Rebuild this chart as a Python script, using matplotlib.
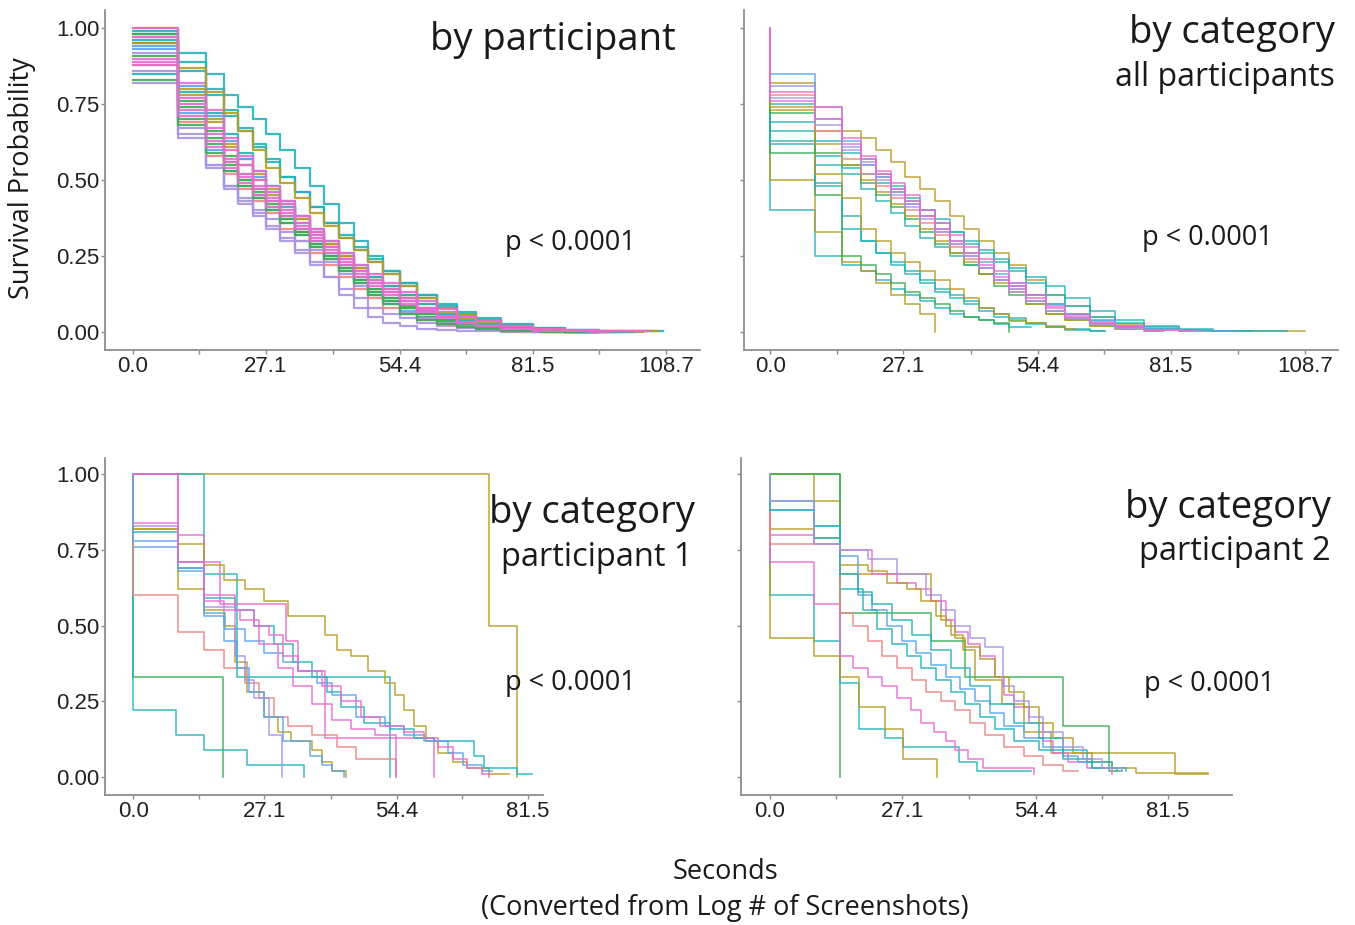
import matplotlib.pyplot as plt

# === Colours (ggplot hue-ish, washed out like the scan)
TEAL = "#22b3b9"
PINK = "#e86bd2"
GOLD = "#b89c22"
GREEN = "#3aae52"
LAV = "#a893e4"
BLUE = "#5aa4ea"
SALMON = "#ec8585"

# === Panel 1: by participant (all curves share one step grid)
part_times = [0, 9.2, 14.8, 18.5, 21.5, 24.5, 27.1, 30, 33, 36, 39, 42, 45, 48,
              51, 54.4, 58, 62, 66, 70, 75, 81.5, 88, 95]
part_surv = [
    [0.98, 0.92, 0.85, 0.78, 0.74, 0.70, 0.65, 0.60, 0.54, 0.48, 0.42, 0.36, 0.30, 0.25, 0.20, 0.16, 0.12, 0.09, 0.065, 0.045, 0.025, 0.012, 0.005, 0.002],
    [0.82, 0.65, 0.55, 0.48, 0.43, 0.39, 0.35, 0.31, 0.27, 0.23, 0.18, 0.12, 0.08, 0.05, 0.03, 0.02, 0.01, 0.005, 0.002, 0.001, 0, 0, 0, 0],
    [1.00, 0.80, 0.70, 0.62, 0.57, 0.52, 0.47, 0.42, 0.37, 0.33, 0.29, 0.25, 0.21, 0.17, 0.14, 0.11, 0.08, 0.05, 0.035, 0.02, 0.012, 0.006, 0.002, 0],
    [0.98, 0.76, 0.66, 0.58, 0.52, 0.47, 0.43, 0.38, 0.34, 0.30, 0.26, 0.22, 0.18, 0.14, 0.11, 0.08, 0.06, 0.04, 0.025, 0.015, 0.008, 0.004, 0.001, 0],
    [0.96, 0.86, 0.78, 0.71, 0.66, 0.61, 0.56, 0.51, 0.46, 0.41, 0.36, 0.31, 0.27, 0.23, 0.19, 0.15, 0.11, 0.08, 0.055, 0.035, 0.02, 0.01, 0.004, 0],
    [0.94, 0.72, 0.60, 0.53, 0.48, 0.44, 0.40, 0.36, 0.32, 0.28, 0.24, 0.20, 0.16, 0.13, 0.10, 0.07, 0.05, 0.03, 0.02, 0.01, 0.005, 0.002, 0, 0],
    [0.91, 0.70, 0.62, 0.55, 0.50, 0.46, 0.42, 0.37, 0.33, 0.29, 0.25, 0.21, 0.17, 0.13, 0.10, 0.08, 0.05, 0.035, 0.02, 0.012, 0.006, 0.003, 0.001, 0],
    [0.88, 0.78, 0.69, 0.61, 0.55, 0.50, 0.45, 0.41, 0.37, 0.33, 0.29, 0.25, 0.21, 0.18, 0.15, 0.12, 0.09, 0.065, 0.045, 0.03, 0.018, 0.01, 0.004, 0],
    [0.86, 0.67, 0.55, 0.47, 0.42, 0.38, 0.34, 0.30, 0.26, 0.22, 0.18, 0.14, 0.11, 0.08, 0.06, 0.045, 0.03, 0.02, 0.012, 0.006, 0.003, 0.001, 0, 0],
    [0.99, 0.89, 0.80, 0.73, 0.67, 0.62, 0.57, 0.51, 0.46, 0.41, 0.36, 0.32, 0.28, 0.24, 0.20, 0.16, 0.12, 0.085, 0.06, 0.04, 0.022, 0.011, 0.005, 0.002],
    [0.93, 0.81, 0.71, 0.63, 0.57, 0.51, 0.46, 0.41, 0.36, 0.32, 0.28, 0.24, 0.20, 0.16, 0.13, 0.10, 0.07, 0.05, 0.03, 0.02, 0.01, 0.005, 0.002, 0],
    [0.95, 0.74, 0.64, 0.56, 0.50, 0.45, 0.41, 0.37, 0.33, 0.29, 0.25, 0.21, 0.17, 0.14, 0.11, 0.085, 0.06, 0.04, 0.025, 0.015, 0.008, 0.003, 0.001, 0],
    [0.90, 0.75, 0.65, 0.57, 0.52, 0.48, 0.44, 0.40, 0.36, 0.32, 0.28, 0.24, 0.20, 0.17, 0.14, 0.11, 0.08, 0.055, 0.035, 0.02, 0.012, 0.006, 0.002, 0],
    [0.97, 0.69, 0.58, 0.52, 0.47, 0.43, 0.39, 0.34, 0.30, 0.26, 0.22, 0.18, 0.14, 0.11, 0.08, 0.06, 0.04, 0.025, 0.015, 0.008, 0.004, 0.001, 0, 0],
    [0.85, 0.79, 0.72, 0.65, 0.59, 0.53, 0.48, 0.43, 0.38, 0.34, 0.30, 0.26, 0.22, 0.18, 0.15, 0.12, 0.09, 0.06, 0.04, 0.025, 0.015, 0.008, 0.003, 0],
    [1.00, 0.82, 0.73, 0.64, 0.58, 0.53, 0.48, 0.43, 0.38, 0.33, 0.28, 0.24, 0.20, 0.16, 0.13, 0.10, 0.075, 0.05, 0.03, 0.02, 0.01, 0.005, 0.002, 0],
    [0.92, 0.64, 0.54, 0.48, 0.44, 0.40, 0.37, 0.33, 0.30, 0.27, 0.23, 0.19, 0.15, 0.12, 0.09, 0.065, 0.045, 0.03, 0.018, 0.01, 0.005, 0.002, 0, 0],
    [0.88, 0.73, 0.63, 0.56, 0.51, 0.47, 0.43, 0.39, 0.35, 0.31, 0.27, 0.23, 0.19, 0.16, 0.13, 0.10, 0.07, 0.05, 0.03, 0.02, 0.01, 0.005, 0.002, 0],
    [0.95, 0.87, 0.79, 0.72, 0.66, 0.60, 0.54, 0.49, 0.44, 0.39, 0.35, 0.31, 0.27, 0.23, 0.19, 0.15, 0.11, 0.08, 0.055, 0.035, 0.02, 0.01, 0.004, 0.001],
    [0.83, 0.68, 0.59, 0.53, 0.48, 0.44, 0.40, 0.36, 0.32, 0.28, 0.24, 0.20, 0.16, 0.12, 0.09, 0.06, 0.04, 0.025, 0.015, 0.008, 0.003, 0.001, 0, 0],
    [0.97, 0.77, 0.67, 0.60, 0.55, 0.50, 0.46, 0.42, 0.38, 0.34, 0.30, 0.26, 0.22, 0.19, 0.16, 0.13, 0.10, 0.075, 0.05, 0.035, 0.02, 0.01, 0.005, 0.002],
    [0.89, 0.71, 0.61, 0.54, 0.49, 0.45, 0.41, 0.38, 0.34, 0.30, 0.26, 0.22, 0.18, 0.15, 0.12, 0.09, 0.065, 0.045, 0.03, 0.018, 0.01, 0.004, 0.001, 0],
]
part_end = [108, 80, 98, 92, 100, 85, 90, 104, 86, 106, 96, 90, 100, 84, 102, 94, 88, 97, 107, 83, 105, 93]
part_colors = [TEAL, LAV, GOLD, GREEN, TEAL, BLUE, GREEN, GOLD, LAV, TEAL, BLUE, GREEN,
               PINK, SALMON, TEAL, PINK, LAV, PINK, GOLD, GREEN, PINK, PINK]

# === Panel 2: by category, all participants (shared grid, S(0)=1)
cat_all_times = [0, 0, 9.1, 14.7, 18.5, 21.5, 24.5, 27.5, 30.5, 33.5, 36.5, 39.5,
                 42.5, 45.5, 48.5, 52, 56, 60, 65, 70, 76, 83, 90]
cat_all_surv = [
    [1.0, 0.82, 0.66, 0.66, 0.64, 0.60, 0.56, 0.51, 0.47, 0.43, 0.38, 0.34, 0.30, 0.26, 0.22, 0.17, 0.12, 0.085, 0.05, 0.025, 0.01, 0.004, 0.001],
    [1.0, 0.75, 0.58, 0.54, 0.52, 0.49, 0.46, 0.43, 0.40, 0.36, 0.33, 0.29, 0.26, 0.23, 0.20, 0.16, 0.12, 0.085, 0.05, 0.03, 0.015, 0.006, 0.002],
    [1.0, 0.69, 0.63, 0.59, 0.55, 0.51, 0.48, 0.44, 0.40, 0.37, 0.33, 0.30, 0.27, 0.24, 0.21, 0.18, 0.15, 0.11, 0.07, 0.04, 0.02, 0.008, 0.003],
    [1.0, 0.63, 0.55, 0.52, 0.47, 0.43, 0.39, 0.35, 0.31, 0.28, 0.25, 0.22, 0.19, 0.17, 0.15, 0.12, 0.09, 0.06, 0.04, 0.02, 0.01, 0.005],
    [1.0, 0.66, 0.49, 0.34, 0.30, 0.26, 0.23, 0.20, 0.17, 0.14, 0.12, 0.10, 0.08, 0.06, 0.045, 0.03, 0.015, 0.007, 0.002],
    [1.0, 0.40, 0.25, 0.22, 0.20, 0.17, 0.14, 0.12, 0.10, 0.08, 0.06, 0.05, 0.04, 0.025, 0.015],
    [1.0, 0.50, 0.33, 0.23, 0.20, 0.16, 0.12, 0.09, 0.06, 0.0],
    [1.0, 0.59, 0.45, 0.25, 0.22, 0.19, 0.16, 0.13, 0.11, 0.09, 0.07, 0.05, 0.04, 0.03, 0.0],
    [1.0, 0.62, 0.48, 0.38, 0.30, 0.26, 0.22, 0.19, 0.16, 0.13, 0.11, 0.09, 0.07, 0.05, 0.035, 0.025, 0.015, 0.008, 0.003],
    [1.0, 0.73, 0.52, 0.44, 0.34, 0.30, 0.26, 0.23, 0.20, 0.17, 0.14, 0.11, 0.08, 0.06, 0.04, 0.03, 0.02, 0.01],
    [1.0, 0.72, 0.59, 0.55, 0.49, 0.45, 0.41, 0.37, 0.33, 0.29, 0.26, 0.22, 0.19, 0.15, 0.12, 0.09, 0.06, 0.04, 0.02, 0.01, 0.004],
    [1.0, 0.74, 0.62, 0.55, 0.50, 0.46, 0.42, 0.38, 0.34, 0.30, 0.26, 0.23, 0.19, 0.16, 0.13, 0.09, 0.06, 0.04, 0.02, 0.01],
    [1.0, 0.78, 0.66, 0.57, 0.52, 0.48, 0.44, 0.40, 0.36, 0.32, 0.28, 0.24, 0.21, 0.17, 0.14, 0.10, 0.07, 0.045, 0.025, 0.012, 0.005],
    [1.0, 0.85, 0.70, 0.63, 0.57, 0.52, 0.47, 0.42, 0.38, 0.34, 0.30, 0.26, 0.23, 0.19, 0.16, 0.12, 0.09, 0.06, 0.035, 0.018, 0.008, 0.003, 0.001],
    [1.0, 0.81, 0.68, 0.61, 0.56, 0.51, 0.46, 0.42, 0.38, 0.33, 0.29, 0.25, 0.21, 0.17, 0.13, 0.10, 0.07, 0.045, 0.025, 0.012, 0.005, 0.002],
    [1.0, 0.77, 0.74, 0.60, 0.55, 0.50, 0.45, 0.41, 0.37, 0.33, 0.29, 0.25, 0.21, 0.17, 0.14, 0.10, 0.07, 0.045, 0.025, 0.012, 0.004],
    [1.0, 0.79, 0.74, 0.62, 0.57, 0.52, 0.47, 0.43, 0.38, 0.34, 0.30, 0.26, 0.22, 0.18, 0.15, 0.11, 0.08, 0.05, 0.03, 0.015, 0.006],
    [1.0, 0.76, 0.70, 0.64, 0.58, 0.53, 0.49, 0.45, 0.40, 0.36, 0.32, 0.28, 0.24, 0.20, 0.16, 0.12, 0.085, 0.055, 0.03, 0.015, 0.006, 0.002],
]
cat_all_end = [108.7, 105, 98, 87, 68, 53, 33.5, 48.5, 68, 62, 80, 74, 78, 95, 88, 79, 80, 86]
cat_all_colors = [GOLD, TEAL, TEAL, TEAL, TEAL, TEAL, GOLD, GREEN, TEAL, GOLD,
                  GREEN, GOLD, SALMON, BLUE, LAV, LAV, PINK, PINK]

# === Panel 3: by category, participant 1 (one time list per curve)
p1_times = [
    [0, 73.5, 79.3],
    [0, 0, 18.5],
    [0, 0, 8.9, 14.7, 23.6, 35.2],
    [0, 14.7, 21.4, 53.0],
    [0, 9.3, 14.7, 18.0, 31.6, 34.0, 39.6, 62.0],
    [0, 0, 9.3, 14.7, 18.7, 23.0, 27.0, 32.0, 39.6, 42.0, 45.0, 48.5, 52.0, 54.0, 56.0, 58.0, 60.5, 63.0, 66.0, 69.0, 73.5, 77.5],
    [0, 0, 9.3, 14.7, 21.0, 25.0, 29.0, 33.0, 37.0, 40.0, 43.0, 47.6, 53.0, 58.0, 62.0, 70.3, 72.5, 79.3, 82.4],
    [0, 0, 9.3, 14.7, 19.0, 23.0, 27.0, 31.0, 34.0, 38.0, 41.0, 46.0, 52.0, 56.0, 60.0, 65.0, 68.0, 72.0, 74.0],
    [0, 0, 9.3, 14.7, 21.0, 25.0, 28.0, 31.0, 34.0, 39.0, 43.0, 47.0, 51.0, 56.0, 60.0, 63.0, 66.0, 69.0, 72.0, 73.5],
    [0, 0, 9.3, 14.7, 18.7, 23.0, 26.0, 29.0, 32.0, 37.0, 42.0, 46.0, 54.3],
    [0, 0, 9.3, 14.7, 18.7, 21.0, 23.5, 27.0, 30.0, 32.5, 37.0, 39.0, 41.0, 44.0],
    [0, 0, 9.3, 14.7, 21.0, 23.0, 25.0, 28.0, 30.7],
    [0, 0, 9.3, 14.7, 18.7, 21.5, 24.0, 27.0, 31.0, 36.5, 39.0, 41.0, 43.6],
    [0, 9.3, 14.7, 18.7, 22.0, 26.0, 30.0, 33.0, 37.0, 41.0, 45.0, 50.0, 54.3],
]
p1_surv = [
    [1.0, 0.5, 0.0],
    [1.0, 0.33, 0.0],
    [1.0, 0.22, 0.14, 0.09, 0.04, 0.0],
    [1.0, 0.67, 0.33, 0.0],
    [1.0, 0.80, 0.71, 0.57, 0.45, 0.35, 0.13, 0.0],
    [1.0, 0.82, 0.77, 0.70, 0.65, 0.62, 0.58, 0.53, 0.47, 0.42, 0.40, 0.35, 0.31, 0.27, 0.22, 0.17, 0.12, 0.08, 0.05, 0.03, 0.01, 0.01],
    [1.0, 0.81, 0.69, 0.59, 0.55, 0.50, 0.44, 0.38, 0.33, 0.28, 0.23, 0.18, 0.16, 0.13, 0.12, 0.07, 0.03, 0.01, 0.01],
    [1.0, 0.76, 0.68, 0.54, 0.49, 0.45, 0.41, 0.38, 0.35, 0.31, 0.27, 0.20, 0.17, 0.14, 0.12, 0.08, 0.04, 0.02, 0.02],
    [1.0, 0.84, 0.71, 0.60, 0.55, 0.50, 0.47, 0.40, 0.35, 0.30, 0.25, 0.20, 0.17, 0.15, 0.13, 0.10, 0.06, 0.03, 0.01, 0.0],
    [1.0, 0.60, 0.48, 0.42, 0.36, 0.31, 0.26, 0.20, 0.17, 0.14, 0.10, 0.06, 0.0],
    [1.0, 0.82, 0.62, 0.55, 0.50, 0.38, 0.28, 0.20, 0.15, 0.12, 0.09, 0.05, 0.02, 0.0],
    [1.0, 0.83, 0.71, 0.56, 0.40, 0.32, 0.26, 0.14, 0.0],
    [1.0, 0.78, 0.69, 0.53, 0.45, 0.36, 0.28, 0.20, 0.12, 0.07, 0.04, 0.02, 0.0],
    [1.0, 0.71, 0.58, 0.55, 0.52, 0.44, 0.36, 0.30, 0.24, 0.19, 0.16, 0.14, 0.0],
]
p1_colors = [GOLD, GREEN, TEAL, TEAL, PINK, GOLD, TEAL, BLUE, PINK, SALMON, GOLD, LAV, BLUE, PINK]

# === Panel 4: by category, participant 2
p2_times = [
    [0, 14.4],
    [0, 9.1, 14.4, 32.9, 35.0, 37.0, 39.5, 42.0, 47.5, 52.0, 57.6, 83.0, 89.7],
    [0, 14.4, 32.9, 40.0, 60.0, 69.5, 72.0],
    [0, 0, 9.1, 14.4, 21.0, 26.0, 30.0, 33.0, 36.0, 38.0, 40.5, 43.0, 46.0, 48.0, 50.0, 53.0, 56.0, 58.0, 61.0, 65.0, 70.0],
    [0, 0, 9.1, 14.4, 20.0, 24.0, 28.0, 31.0, 34.0, 36.0, 38.0, 40.0, 43.0, 46.0, 49.0, 52.0, 55.0, 58.0, 62.0, 66.0, 70.0, 75.0, 89.7],
    [0, 0, 9.1, 14.4, 18.2, 23.5, 27.2, 38.7, 42.4, 53.5],
    [0, 0, 9.1, 14.4, 18.2, 23.5, 27.2, 34.2],
    [0, 0, 9.1, 14.4, 17.0, 20.0, 23.0, 26.0, 28.8, 31.0, 33.7, 36.0, 38.0, 40.5, 43.6, 54.0],
    [0, 0, 9.1, 14.4, 18.0, 21.0, 24.0, 27.0, 30.0, 33.0, 36.0, 39.0, 42.0, 45.0, 48.0, 52.0, 56.0, 60.0, 63.0, 66.0, 68.5],
    [0, 0, 9.1, 14.4, 19.0, 22.0, 25.0, 28.0, 31.0, 34.0, 37.0, 40.0, 43.0, 46.0, 50.0, 55.0, 60.0, 66.0, 71.0],
    [0, 0, 9.1, 14.4, 17.0, 20.0, 23.0, 26.0, 29.0, 32.0, 35.0, 38.0, 41.0, 44.0, 48.0, 52.0, 56.0, 60.0, 63.0],
    [0, 0, 9.1, 14.4, 18.0, 21.0, 25.0, 29.0, 33.0, 37.0, 41.0, 45.0, 50.0, 55.0, 60.0, 65.0, 70.0, 73.0],
    [0, 0, 9.1, 14.4, 20.0, 26.0, 32.0, 35.0, 38.0, 41.0, 44.0, 47.7, 50.0, 53.0, 56.0, 60.0, 64.0, 68.0, 72.0],
]
p2_surv = [
    [1.0, 0.0],
    [1.0, 0.91, 0.67, 0.58, 0.52, 0.47, 0.42, 0.32, 0.24, 0.15, 0.08, 0.01, 0.01],
    [1.0, 0.54, 0.45, 0.33, 0.17, 0.02, 0.02],
    [1.0, 0.80, 0.77, 0.75, 0.67, 0.64, 0.62, 0.58, 0.52, 0.48, 0.44, 0.40, 0.33, 0.27, 0.23, 0.18, 0.12, 0.08, 0.05, 0.03, 0.01],
    [1.0, 0.82, 0.79, 0.70, 0.68, 0.64, 0.62, 0.58, 0.53, 0.50, 0.46, 0.43, 0.39, 0.33, 0.28, 0.23, 0.18, 0.13, 0.08, 0.05, 0.03, 0.012, 0.012],
    [1.0, 0.60, 0.45, 0.31, 0.16, 0.13, 0.10, 0.05, 0.02, 0.02],
    [1.0, 0.46, 0.40, 0.33, 0.23, 0.16, 0.06, 0.0],
    [1.0, 0.71, 0.57, 0.40, 0.36, 0.33, 0.30, 0.26, 0.22, 0.18, 0.15, 0.12, 0.09, 0.06, 0.03, 0.01],
    [1.0, 0.88, 0.83, 0.73, 0.60, 0.55, 0.50, 0.45, 0.41, 0.37, 0.33, 0.29, 0.25, 0.21, 0.17, 0.13, 0.10, 0.07, 0.05, 0.03, 0.03],
    [1.0, 0.91, 0.79, 0.62, 0.55, 0.49, 0.44, 0.40, 0.36, 0.32, 0.28, 0.24, 0.20, 0.16, 0.12, 0.09, 0.06, 0.03, 0.02],
    [1.0, 0.77, 0.77, 0.54, 0.50, 0.45, 0.40, 0.36, 0.32, 0.28, 0.25, 0.22, 0.18, 0.14, 0.10, 0.07, 0.04, 0.02, 0.02],
    [1.0, 0.88, 0.83, 0.67, 0.61, 0.57, 0.52, 0.47, 0.42, 0.36, 0.30, 0.24, 0.18, 0.13, 0.09, 0.05, 0.03, 0.02],
    [1.0, 0.91, 0.77, 0.75, 0.72, 0.67, 0.60, 0.55, 0.50, 0.46, 0.43, 0.30, 0.25, 0.20, 0.15, 0.10, 0.06, 0.03, 0.02],
]
p2_colors = [GREEN, GOLD, GREEN, PINK, GOLD, TEAL, GOLD, PINK, BLUE, TEAL, SALMON, TEAL, LAV]

xtick_vals = [0.0, 27.1, 54.4, 81.5, 108.7]
xtick_minor = [13.55, 40.75, 67.95, 95.1]
ytick_vals = [0.00, 0.25, 0.50, 0.75, 1.00]

TICK_FONT = ["Liberation Sans", "DejaVu Sans"]
TEXT_FONT = ["Open Sans", "DejaVu Sans"]
AXIS_GREY = "#8e8e8e"

W, H = 1355, 925
fig = plt.figure(figsize=(W / 100, H / 100), dpi=100)


def px_axes(l, t, r, b):
    return fig.add_axes([l / W, 1 - b / H, (r - l) / W, (b - t) / H])


def style_axes(ax, xlim, ylim, ylabels):
    for s in ["top", "right"]:
        ax.spines[s].set_visible(False)
    for s in ["left", "bottom"]:
        ax.spines[s].set_color(AXIS_GREY)
        ax.spines[s].set_linewidth(1.3)
    ax.set_xticks(xtick_vals)
    ax.set_xticklabels([f"{v:.1f}" for v in xtick_vals])
    ax.set_xticks(xtick_minor, minor=True)
    ax.set_yticks(ytick_vals)
    if ylabels:
        ax.set_yticklabels([f"{v:.2f}" for v in ytick_vals])
    else:
        ax.set_yticklabels([])
    ax.tick_params(which="both", color=AXIS_GREY, length=3, width=1, pad=1,
                   labelsize=16, labelcolor="#222222")
    for lab in ax.get_xticklabels() + ax.get_yticklabels():
        lab.set_family(TICK_FONT)
    # limits last, set_xticks would widen them otherwise
    ax.set_xlim(*xlim)
    ax.set_ylim(*ylim)


def draw_steps(ax, times_list, surv_list, colors, lw):
    for t, s, c in zip(times_list, surv_list, colors):
        ax.step(t, s, where="post", color=c, lw=lw, alpha=0.9)


# === Panel 1
ax1 = px_axes(105, 10, 700, 350)
for s, e, c in zip(part_surv, part_end, part_colors):
    xs = part_times[:len(s)] + [e]
    ys = s + [s[-1]]
    ax1.step(xs, ys, where="post", color=c, lw=1.6, alpha=0.9)
style_axes(ax1, (-5.7, 115.6), (-0.06, 1.06), True)

# === Panel 2
ax2 = px_axes(744, 10, 1338, 350)
for s, e, c in zip(cat_all_surv, cat_all_end, cat_all_colors):
    xs = cat_all_times[:len(s)] + [e]
    ys = s + [s[-1]]
    ax2.step(xs, ys, where="post", color=c, lw=1.1, alpha=0.9)
style_axes(ax2, (-5.3, 115.4), (-0.06, 1.06), False)

# === Panel 3
ax3 = px_axes(105, 458, 543, 795)
draw_steps(ax3, p1_times, p1_surv, p1_colors, 1.1)
style_axes(ax3, (-5.8, 84.6), (-0.059, 1.053), True)

# === Panel 4
ax4 = px_axes(741, 458, 1232, 795)
draw_steps(ax4, p2_times, p2_surv, p2_colors, 1.1)
style_axes(ax4, (-5.9, 94.6), (-0.059, 1.053), False)


def ftext(x, y, s, size, ha="left", **kw):
    fig.text(x / W, 1 - y / H, s, fontsize=size, ha=ha, va="center",
             family=TEXT_FONT, color="#1a1a1a", **kw)


ftext(676, 40, "by participant", 27.5, ha="right")
ftext(1335, 33, "by category", 27.5, ha="right")
ftext(1335, 77, "all participants", 23, ha="right")
ftext(695, 513, "by category", 27.5, ha="right")
ftext(693, 557, "participant 1", 23.5, ha="right")
ftext(1331, 508, "by category", 27.5, ha="right")
ftext(1331, 551, "participant 2", 23.5, ha="right")
ftext(505, 243, "p < 0.0001", 19.5)
ftext(1142, 238, "p < 0.0001", 19.5)
ftext(505, 683, "p < 0.0001", 19.5)
ftext(1144, 684, "p < 0.0001", 19.5)
ftext(22, 178, "Survival Probability", 19.5, ha="center", rotation=90)
ftext(725, 872, "Seconds", 19.5, ha="center")
ftext(725, 908, "(Converted from Log # of Screenshots)", 19.5, ha="center")

fig.savefig("out.png", dpi=100)
print("Figure saved as out.png")
